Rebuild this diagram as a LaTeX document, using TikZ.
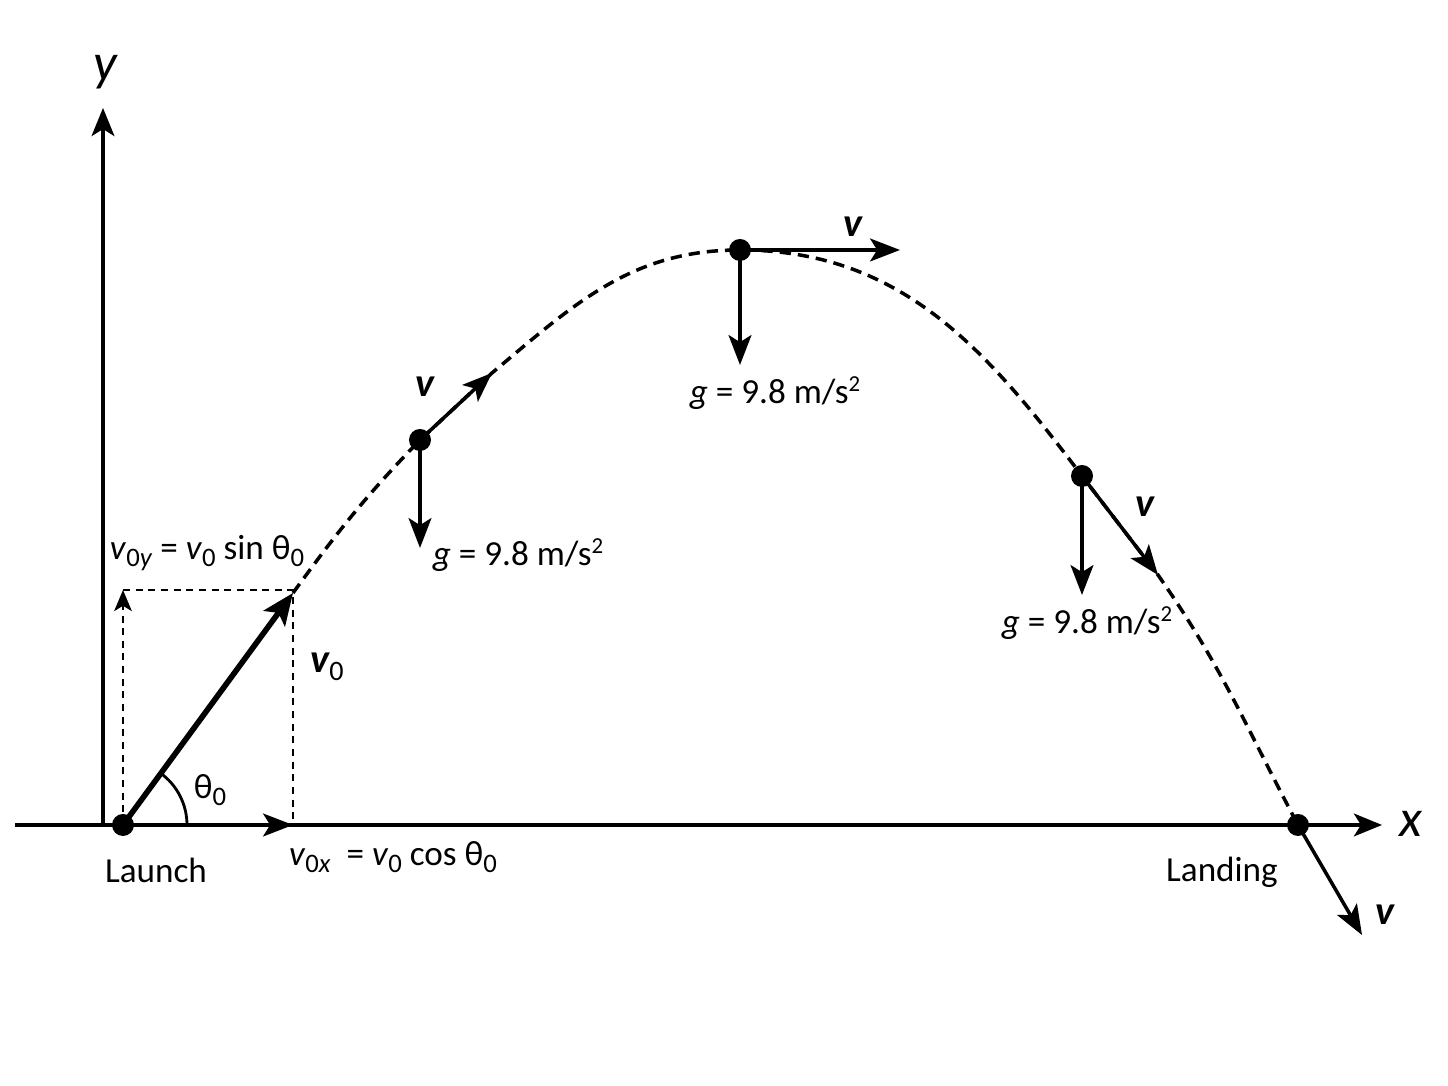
\documentclass[tikz,border=0pt]{standalone}
\usepackage{fontspec}
\setmainfont{Carlito}
\usetikzlibrary{arrows.meta}

\newcommand{\lowr}[1]{\raisebox{-0.4ex}{\fontsize{7.6}{8}\selectfont #1}}
\newcommand{\vsub}[1]{\textit{v}\lowr{#1}}
\newcommand{\gval}{\textit{g} = 9.8 m/s\raisebox{0.75ex}{\fontsize{6.5}{7}\selectfont 2}}

\tikzset{
  txt/.style={font=\fontsize{10}{12}\selectfont, inner sep=0pt},
  vname/.style={font=\fontsize{11.5}{13}\selectfont\bfseries\itshape, inner sep=0pt},
  axisname/.style={font=\fontsize{15}{17}\selectfont\itshape, inner sep=0pt},
  axis/.style={line width=0.9pt, -{Stealth[length=8pt,width=6.5pt,inset=2pt]}},
  vec/.style={line width=1pt, -{Stealth[length=8.5pt,width=6.5pt,inset=2pt]}},
  bigvec/.style={line width=1.6pt, -{Stealth[length=9pt,width=7.5pt,inset=2pt]}},
  flight/.style={line width=1pt, dash pattern=on 3.2pt off 2pt},
  guide/.style={line width=0.65pt, dash pattern=on 2pt off 1.6pt}
}

\begin{document}
\begin{tikzpicture}
  \useasboundingbox (0,0) rectangle (14.48,10.86);

  % axes
  \coordinate (xstart) at (0.15,2.61);
  \coordinate (xend) at (13.82,2.61);
  \coordinate (origin) at (1.03,2.61);
  \coordinate (yend) at (1.03,9.78);
  \draw[axis] (xstart) -- (xend);
  \draw[axis] (origin) -- (yend);
  \node[axisname] (ylab) at (1.05,10.14) {y};
  \node[axisname] (xlab) at (14.11,2.62) {x};

  % points on the flight
  \coordinate (launch) at (1.23,2.61);
  \coordinate (tip) at (2.93,4.93);
  \coordinate (p1) at (4.20,6.46);
  \coordinate (apex) at (7.40,8.36);
  \coordinate (p3) at (10.82,6.10);
  \coordinate (landing) at (12.98,2.61);

  % arrow ends
  \coordinate (v0ytop) at (1.23,4.96);
  \coordinate (boxtop) at (2.93,4.96);
  \coordinate (v0xend) at (2.93,2.61);
  \coordinate (p1v) at (4.92,7.13);
  \coordinate (p1g) at (4.20,5.38);
  \coordinate (apexv) at (9.00,8.36);
  \coordinate (apexg) at (7.40,7.21);
  \coordinate (p3v) at (11.58,5.11);
  \coordinate (p3g) at (10.82,4.91);
  \coordinate (landv) at (13.62,1.51);

  % trajectory
  \draw[flight] (tip) to[out=54,in=226] (p1) -- (p1v) to[out=40,in=180] (apex)
    to[out=0,in=127] (p3) -- (p3v) to[out=-55,in=118] (landing);

  % components of v0
  \draw[guide, -{Stealth[length=6pt,width=5pt,inset=1.5pt]}] (launch) -- (v0ytop);
  \draw[guide] (v0ytop) -- (boxtop) -- (v0xend);
  \draw[vec] (launch) -- (v0xend);
  \draw[bigvec] (launch) -- (tip);
  \draw[line width=0.8pt] ([xshift=0.64cm]launch) arc[start angle=0,end angle=54,radius=0.64];

  % velocity and gravity
  \draw[vec] (p1) -- (p1v);
  \draw[vec] (p1) -- (p1g);
  \draw[vec] (apex) -- (apexv);
  \draw[vec] (apex) -- (apexg);
  \draw[vec] (p3) -- (p3v);
  \draw[vec] (p3) -- (p3g);
  \draw[vec] (landing) -- (landv);

  \foreach \p in {launch,p1,apex,p3,landing}
    \fill (\p) circle (0.11);

  % labels
  \node[txt] (launchlab) at (1.56,2.16) {Launch};
  \node[txt] (landlab) at (12.22,2.14) {Landing};
  \node[txt] (thetalab) at (2.10,2.96) {θ\lowr{0}};
  \node[vname] (v0lab) at (3.27,4.19) {v\raisebox{-0.4ex}{\normalfont\fontsize{8}{9}\selectfont 0}};
  \node[txt] (v0ylab) at (2.07,5.33) {\vsub{0\textit{y}} = \vsub{0} sin θ\lowr{0}};
  \node[txt] (v0xlab) at (3.93,2.29) {\vsub{0\textit{x}}\ \ = \vsub{0} cos θ\lowr{0}};
  \node[vname] (p1vlab) at (4.25,6.99) {v};
  \node[txt] (p1glab) at (5.18,5.31) {\gval};
  \node[vname] (apexvlab) at (8.53,8.59) {v};
  \node[txt] (apexglab) at (7.75,6.93) {\gval};
  \node[vname] (p3vlab) at (11.45,5.79) {v};
  \node[txt] (p3glab) at (10.87,4.63) {\gval};
  \node[vname] (landvlab) at (13.85,1.71) {v};
\end{tikzpicture}
\end{document}
